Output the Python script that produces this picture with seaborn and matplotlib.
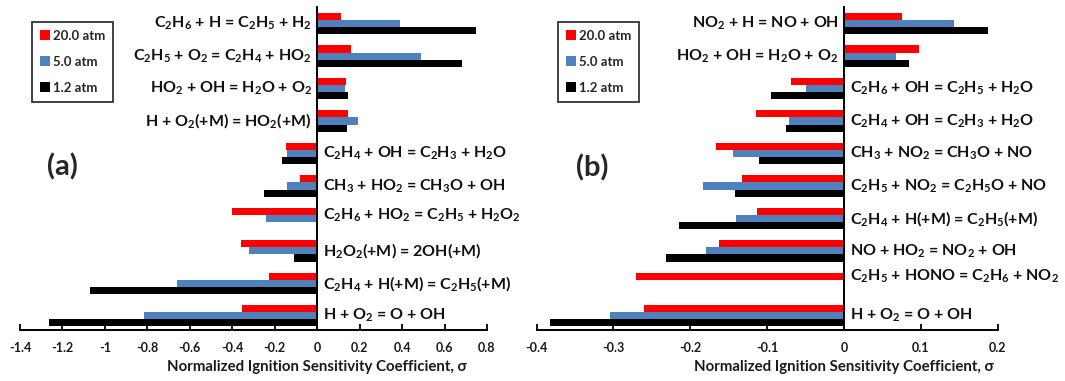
import numpy as np
import pandas as pd
import seaborn as sns
import matplotlib
matplotlib.use("Agg")
import matplotlib.pyplot as plt
from matplotlib.patches import Patch
from matplotlib.ticker import FuncFormatter

# ---------------- data ----------------
pressures = ["20.0 atm", "5.0 atm", "1.2 atm"]
colors = ["#FF0000", "#4F81BD", "#000000"]

left_reactions = [
    "C$_2$H$_6$ + H = C$_2$H$_5$ + H$_2$",
    "C$_2$H$_5$ + O$_2$ = C$_2$H$_4$ + HO$_2$",
    "HO$_2$ + OH = H$_2$O + O$_2$",
    "H + O$_2$(+M) = HO$_2$(+M)",
    "C$_2$H$_4$ + OH = C$_2$H$_3$ + H$_2$O",
    "CH$_3$ + HO$_2$ = CH$_3$O + OH",
    "C$_2$H$_6$ + HO$_2$ = C$_2$H$_5$ + H$_2$O$_2$",
    "H$_2$O$_2$(+M) = 2OH(+M)",
    "C$_2$H$_4$ + H(+M) = C$_2$H$_5$(+M)",
    "H + O$_2$ = O + OH",
]
left_p20 = [0.11, 0.16, 0.137, 0.144, -0.149, -0.083, -0.40, -0.358, -0.225, -0.356]
left_p5 = [0.39, 0.49, 0.13, 0.19, -0.141, -0.141, -0.24, -0.319, -0.66, -0.816]
left_p12 = [0.75, 0.68, 0.146, 0.14, -0.168, -0.25, 0.0, -0.11, -1.072, -1.264]

right_reactions = [
    "NO$_2$ + H = NO + OH",
    "HO$_2$ + OH = H$_2$O + O$_2$",
    "C$_2$H$_6$ + OH = C$_2$H$_5$ + H$_2$O",
    "C$_2$H$_4$ + OH = C$_2$H$_3$ + H$_2$O",
    "CH$_3$ + NO$_2$ = CH$_3$O + NO",
    "C$_2$H$_5$ + NO$_2$ = C$_2$H$_5$O + NO",
    "C$_2$H$_4$ + H(+M) = C$_2$H$_5$(+M)",
    "NO + HO$_2$ = NO$_2$ + OH",
    "C$_2$H$_5$ + HONO = C$_2$H$_6$ + NO$_2$",
    "H + O$_2$ = O + OH",
]
right_p20 = [0.075, 0.0975, -0.069, -0.115, -0.167, -0.133, -0.1135, -0.162, -0.271, -0.26]
right_p5 = [0.143, 0.068, -0.05, -0.071, -0.145, -0.183, -0.140, -0.179, 0.0, -0.304]
right_p12 = [0.187, 0.0845, -0.095, -0.075, -0.111, -0.142, -0.215, -0.231, 0.0, -0.382]

left_ticks = [-1.4, -1.2, -1.0, -0.8, -0.6, -0.4, -0.2, 0.0, 0.2, 0.4, 0.6, 0.8]
right_ticks = [-0.4, -0.3, -0.2, -0.1, 0.0, 0.1, 0.2]
xlabel = "Normalized Ignition Sensitivity Coefficient, σ"

# ---------------- style ----------------
sns.set_theme(style="white")
plt.rcParams["font.family"] = ["Lato", "DejaVu Sans"]
plt.rcParams["mathtext.default"] = "regular"
plt.rcParams["font.weight"] = "bold"

W, H = 1065, 381
fig = plt.figure(figsize=(W / 100, H / 100), dpi=100)


def draw(ax, reactions, p20, p5, p12, ticks, panel, panel_xy, legend_xy):
    n = len(reactions)
    df = pd.DataFrame({
        "reaction": reactions * 3,
        "value": list(p20) + list(p5) + list(p12),
        "pressure": sum([[p] * n for p in pressures], []),
    })
    sns.barplot(data=df, y="reaction", x="value", hue="pressure",
                hue_order=pressures, palette=colors, orient="h",
                order=reactions, width=0.66, dodge=True, ax=ax,
                legend=False, linewidth=0, saturation=1, errorbar=None)
    xmin, xmax = ticks[0], ticks[-1]
    ax.set_xlim(xmin, xmax)
    ax.set_ylim(9.44, -0.515)
    ax.set_yticks([])
    ax.set_ylabel("")
    for s in ("top", "right"):
        ax.spines[s].set_visible(False)
    ax.spines["left"].set_position(("data", 0))
    ax.spines["left"].set_color("black")
    ax.spines["left"].set_linewidth(1.4)
    ax.spines["bottom"].set_color("black")
    ax.spines["bottom"].set_linewidth(1.4)
    ax.set_xticks(ticks)
    ax.xaxis.set_major_formatter(FuncFormatter(lambda v, p: f"{v:g}"))
    ax.tick_params(axis="x", bottom=True, direction="in", length=4,
                   width=1.3, color="black", pad=9, labelsize=9,
                   labelcolor="#1a1a1a")
    for lab in ax.get_xticklabels():
        lab.set_fontweight("bold")
    ax.set_xlabel(xlabel, fontsize=10.8, fontweight="bold", color="#1a1a1a")
    ax.xaxis.set_label_coords((0 - xmin) / (xmax - xmin), -0.092)
    ax.xaxis.label.set_va("top")

    # reaction labels beside the zero line
    vals = np.array([p20, p5, p12])
    for i, txt in enumerate(reactions):
        centers = []
        for k, cont in enumerate(ax.containers):
            patch = cont.patches[i]
            if vals[k, i] != 0:
                centers.append(patch.get_y() + patch.get_height() / 2)
        yc = np.mean(centers) if centers else i
        positive = vals[:, i].sum() > 0
        ax.annotate(txt, xy=(0, yc), xytext=(-4 if positive else 4, 0),
                    textcoords="offset points",
                    ha="right" if positive else "left", va="center",
                    fontsize=11.5, fontweight="bold", color="#111111")

    fig.text(panel_xy[0] / W, 1 - panel_xy[1] / H, panel, ha="center",
             va="center", fontsize=21, fontweight="bold")

    handles = [Patch(facecolor=c, edgecolor="none", label=l)
               for c, l in zip(colors, pressures)]
    leg = ax.legend(handles=handles, loc="upper left",
                    bbox_to_anchor=(legend_xy[0] / W, 1 - legend_xy[1] / H),
                    bbox_transform=fig.transFigure, frameon=True,
                    fancybox=False, edgecolor="black",
                    prop={"weight": "bold", "size": 9.5},
                    handlelength=0.75, handleheight=0.75, handletextpad=0.25,
                    labelspacing=1.05, borderpad=0.6, borderaxespad=0)
    leg.get_frame().set_linewidth(1.3)


bottom = 1 - 330 / H
height = 323 / H
ax1 = fig.add_axes([20 / W, bottom, 467 / W, height])
ax2 = fig.add_axes([536.5 / W, bottom, 461.3 / W, height])

draw(ax1, left_reactions, left_p20, left_p5, left_p12, left_ticks,
     "(a)", (62, 167), (32, 22))
draw(ax2, right_reactions, right_p20, right_p5, right_p12, right_ticks,
     "(b)", (592, 168), (558, 22))

fig.savefig("out.png", dpi=100)
